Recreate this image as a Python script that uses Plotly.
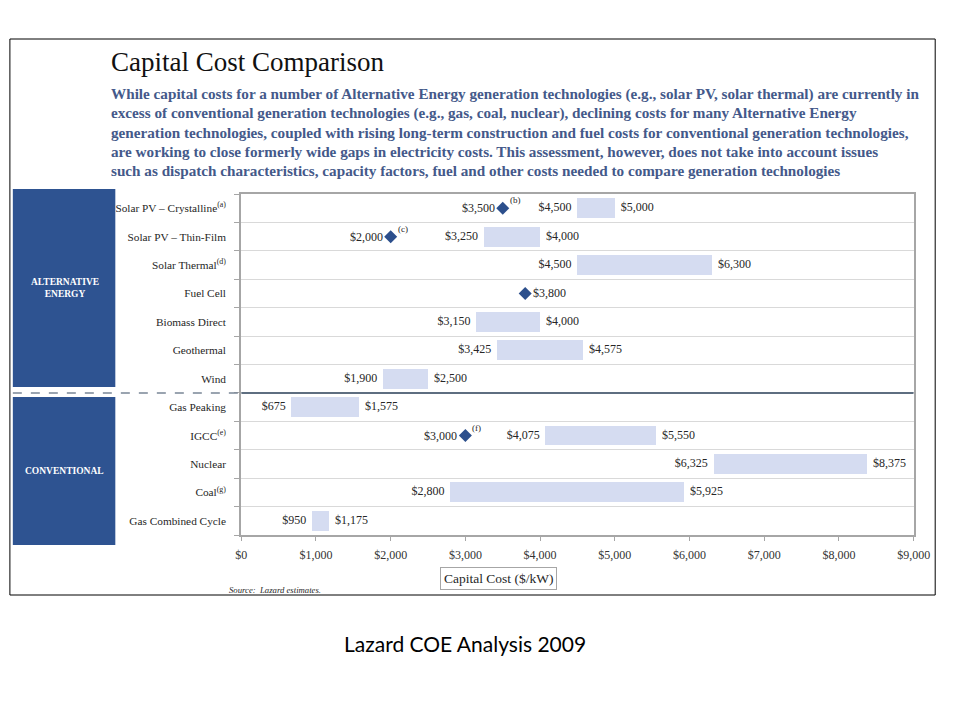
import plotly.graph_objects as go

# ---------------- data ----------------
categories = [
    "Solar PV – Crystalline<sup>(a)</sup>",
    "Solar PV – Thin-Film",
    "Solar Thermal<sup>(d)</sup>",
    "Fuel Cell",
    "Biomass Direct",
    "Geothermal",
    "Wind",
    "Gas Peaking",
    "IGCC<sup>(e)</sup>",
    "Nuclear",
    "Coal<sup>(g)</sup>",
    "Gas Combined Cycle",
]
range_low = [4500, 3250, 4500, None, 3150, 3425, 1900, 675, 4075, 6325, 2800, 950]
range_high = [5000, 4000, 6300, None, 4000, 4575, 2500, 1575, 5550, 8375, 5925, 1175]
point_row = [0, 1, 3, 8]
point_value = [3500, 2000, 3800, 3000]
point_note = ["(b)", "(c)", "", "(f)"]
point_label_side = ["left", "left", "right", "left"]
x_ticks = [0, 1000, 2000, 3000, 4000, 5000, 6000, 7000, 8000, 9000]

title = "Capital Cost Comparison"
subtitle_lines = [
    "While capital costs for a number of Alternative Energy generation technologies (e.g., solar PV, solar thermal) are currently in",
    "excess of conventional generation technologies (e.g., gas, coal, nuclear), declining costs for many Alternative Energy",
    "generation technologies, coupled with rising long-term construction and fuel costs for conventional generation technologies,",
    "are working to close formerly wide gaps in electricity costs. This assessment, however, does not take into account issues",
    "such as dispatch characteristics, capacity factors, fuel and other costs needed to compare generation technologies",
]
caption = "Lazard COE Analysis 2009"

# ---------------- helpers ----------------
W, H = 960, 720
def px(x):
    return x / W
def py(y):
    return 1 - y / H

SERIF = "Liberation Serif, DejaVu Serif, serif"
BAR = "#D5DCF1"
DIAMOND = "#2C4F8C"
PANEL = "#2E5391"
SUB = "#44598A"
TXT = "#262626"

fig = go.Figure()

rows = list(range(len(categories)))
bar_rows = [r for r in rows if range_low[r] is not None]
fig.add_trace(go.Bar(
    y=bar_rows,
    x=[range_high[r] - range_low[r] for r in bar_rows],
    base=[range_low[r] for r in bar_rows],
    orientation="h",
    width=0.7,
    marker=dict(color=BAR, line=dict(width=0)),
    hoverinfo="skip",
    showlegend=False,
))

# low / high labels
fig.add_trace(go.Scatter(
    y=bar_rows, x=[range_low[r] for r in bar_rows],
    mode="text",
    text=[f"${range_low[r]:,}  " for r in bar_rows],
    textposition="middle left",
    textfont=dict(family=SERIF, size=12, color=TXT),
    showlegend=False, hoverinfo="skip", cliponaxis=False,
))
fig.add_trace(go.Scatter(
    y=bar_rows, x=[range_high[r] for r in bar_rows],
    mode="text",
    text=[f"  ${range_high[r]:,}" for r in bar_rows],
    textposition="middle right",
    textfont=dict(family=SERIF, size=12, color=TXT),
    showlegend=False, hoverinfo="skip", cliponaxis=False,
))

# diamonds
fig.add_trace(go.Scatter(
    y=point_row, x=point_value,
    mode="markers",
    marker=dict(symbol="diamond", size=10, color=DIAMOND),
    showlegend=False, hoverinfo="skip",
))
for r, v, note, side in zip(point_row, point_value, point_note, point_label_side):
    fig.add_annotation(
        x=v, y=r, xref="x", yref="y",
        text=f"${v:,}",
        showarrow=False,
        xanchor="right" if side == "left" else "left",
        xshift=-6 if side == "left" else 6,
        font=dict(family=SERIF, size=12, color=TXT),
    )
    if note:
        fig.add_annotation(
            x=v, y=r, xref="x", yref="y",
            text=note, showarrow=False,
            xanchor="left", xshift=5, yshift=8,
            font=dict(family=SERIF, size=9, color=TXT),
        )

# ---------------- layout ----------------
fig.update_layout(
    height=H,
    autosize=True,
    margin=dict(l=0, r=0, t=0, b=0),
    paper_bgcolor="white",
    plot_bgcolor="white",
    showlegend=False,
    bargap=0,
    xaxis=dict(
        domain=[px(241), px(930)],
        range=[0, 9000],
        tickmode="array", tickvals=x_ticks, tickformat="$,",
        ticks="outside", ticklen=4, tickcolor="#A6A6A6", tickwidth=1,
        showline=True, linecolor="#A6A6A6", linewidth=2, mirror=True,
        showgrid=False, zeroline=False,
        tickfont=dict(family=SERIF, size=12, color="#333333"),
        ticklabelstandoff=4,
        fixedrange=True,
    ),
    yaxis=dict(
        domain=[py(535), py(194)],
        range=[11.5, -0.5],
        tickmode="array", tickvals=rows, ticktext=categories,
        ticks="", showgrid=False, zeroline=False,
        showline=True, linecolor="#A6A6A6", linewidth=2, mirror=True,
        tickfont=dict(family=SERIF, size=11.3, color=TXT),
        ticklabelstandoff=11,
        minor=dict(tick0=0.5, dtick=1, ticks="outside", ticklen=5,
                   tickcolor="#A6A6A6", showgrid=True,
                   gridcolor="#D9D9D9", gridwidth=1),
        fixedrange=True,
    ),
)

shapes = []
shapes.append(dict(type="rect", xref="paper", yref="paper",
                   x0=px(4), x1=px(952), y0=py(595), y1=py(39),
                   line=dict(color="black", width=1), layer="below"))
shapes.append(dict(type="rect", xref="paper", yref="paper",
                   x0=px(7), x1=px(112), y0=py(387), y1=py(189),
                   fillcolor=PANEL, line=dict(width=0), layer="below"))
shapes.append(dict(type="rect", xref="paper", yref="paper",
                   x0=px(7), x1=px(112), y0=py(545), y1=py(397),
                   fillcolor=PANEL, line=dict(width=0), layer="below"))
shapes.append(dict(type="line", xref="x", yref="y",
                   x0=0, x1=9000, y0=6.5, y1=6.5,
                   line=dict(color="#5E6E80", width=2)))
shapes.append(dict(type="line", xref="paper", yref="y",
                   x0=px(7), x1=px(240), y0=6.5, y1=6.5,
                   line=dict(color="#7A8696", width=1.5, dash="dash")))
fig.update_layout(shapes=shapes)

ann = []
ann.append(dict(x=px(106), y=py(62), xref="paper", yref="paper",
                text=title, showarrow=False, xanchor="left", yanchor="middle",
                font=dict(family=SERIF, size=27, color="#111111")))
for i, line in enumerate(subtitle_lines):
    ann.append(dict(x=px(106), y=py(94 + 19 * i), xref="paper", yref="paper",
                    text=f"<b>{line}</b>", showarrow=False,
                    xanchor="left", yanchor="middle",
                    font=dict(family=SERIF, size=15.2, color=SUB)))
ann.append(dict(x=px(60), y=py(288), xref="paper", yref="paper",
                text="<b>ALTERNATIVE<br>ENERGY</b>", showarrow=False,
                xanchor="center", yanchor="middle",
                font=dict(family=SERIF, size=9.5, color="white")))
ann.append(dict(x=px(60), y=py(471), xref="paper", yref="paper",
                text="<b>CONVENTIONAL</b>", showarrow=False,
                xanchor="center", yanchor="middle",
                font=dict(family=SERIF, size=9.5, color="white")))
ann.append(dict(x=px(505), y=py(578), xref="paper", yref="paper",
                text="Capital Cost ($/kW)", showarrow=False,
                xanchor="center", yanchor="middle",
                bordercolor="#A6A6A6", borderwidth=1, borderpad=3,
                font=dict(family=SERIF, size=13.5, color=TXT)))
ann.append(dict(x=px(226), y=py(590), xref="paper", yref="paper",
                text="<i>Source:  Lazard estimates.</i>", showarrow=False,
                xanchor="left", yanchor="middle",
                font=dict(family=SERIF, size=8.7, color=TXT)))
ann.append(dict(x=px(470), y=py(643), xref="paper", yref="paper",
                text=caption, showarrow=False,
                xanchor="center", yanchor="middle",
                font=dict(family="Lato, Open Sans, sans-serif", size=21, color="black")))
for a in ann:
    fig.add_annotation(**a)

post = ("document.documentElement.style.margin='0';"
        "document.body.style.margin='0';"
        "document.body.style.padding='0';"
        "document.documentElement.style.overflow='hidden';"
        "document.body.style.overflow='hidden';"
        "Plotly.Plots.resize(document.getElementById('{plot_id}'));")
fig.write_html("out.html", post_script=post, default_width="100%",
               config=dict(displayModeBar=False, responsive=True))
